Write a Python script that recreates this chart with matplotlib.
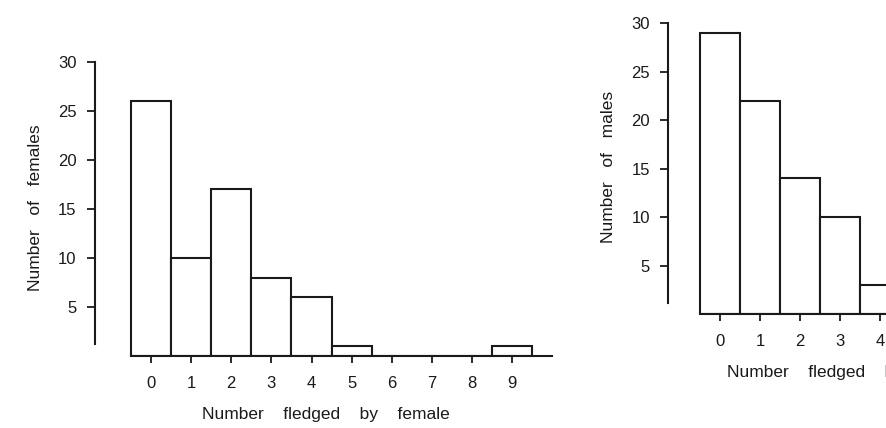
import matplotlib.pyplot as plt

plt.rcParams['font.family'] = ['Liberation Sans', 'DejaVu Sans']

# counts
fledged_female = [0, 1, 2, 3, 4, 5, 6, 7, 8, 9]
n_females = [26, 10, 17, 8, 6, 1, 0, 0, 0, 1]

fledged_male = [0, 1, 2, 3, 4]
n_males = [29, 22, 14, 10, 3]

y_ticks = [5, 10, 15, 20, 25, 30]
ink = '#1a1a1a'


def draw_hist(ax, xs, counts, xlim, base_end, ylabel, xlabel):
    ax.bar(xs, counts, width=1.0, color='white', edgecolor=ink, lw=1.5)
    ax.set_xlim(*xlim)
    ax.set_ylim(0, 30.3)
    ax.spines['top'].set_visible(False)
    ax.spines['right'].set_visible(False)
    ax.spines['left'].set_bounds(1.2, 30)
    ax.spines['bottom'].set_bounds(-0.5, base_end)
    for s in ('left', 'bottom'):
        ax.spines[s].set_color(ink)
        ax.spines[s].set_linewidth(1.5)
    ax.set_yticks(y_ticks)
    ax.set_xticks(xs)
    ax.tick_params(axis='y', length=6, width=1.3, pad=7, labelsize=12, colors=ink)
    ax.tick_params(axis='x', length=5, width=1.3, pad=9, labelsize=12, colors=ink)
    ax.set_ylabel(ylabel, fontsize=12.5, color=ink, labelpad=11)
    ax.set_xlabel(xlabel, fontsize=12.5, color=ink, labelpad=12)


fig = plt.figure(figsize=(8.86, 4.28), dpi=100)

ax1 = fig.add_axes([0.107, 0.168, 0.521, 0.694])
draw_hist(ax1, fledged_female, n_females, (-1.4, 10.1), 10.0,
          'Number   of   females', 'Number    fledged    by    female')

ax2 = fig.add_axes([0.754, 0.266, 0.397, 0.687])
draw_hist(ax2, fledged_male, n_males, (-1.3, 7.5), 7.5,
          'Number   of   males', 'Number    fledged    by    male')

fig.savefig('out.png', dpi=100)
